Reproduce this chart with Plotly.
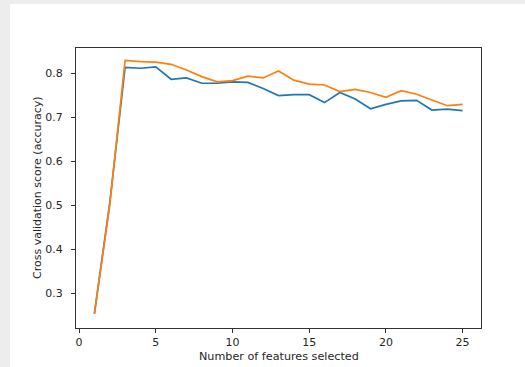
import plotly.graph_objects as go

n_features = list(range(1, 26))
score_a = [0.254, 0.505, 0.813, 0.811, 0.814, 0.786, 0.789, 0.777, 0.777, 0.780,
           0.779, 0.765, 0.749, 0.751, 0.751, 0.733, 0.756, 0.741, 0.719, 0.729,
           0.737, 0.738, 0.716, 0.718, 0.715]
score_b = [0.254, 0.500, 0.829, 0.826, 0.825, 0.820, 0.807, 0.792, 0.780, 0.783,
           0.793, 0.789, 0.805, 0.784, 0.775, 0.773, 0.758, 0.763, 0.756, 0.745,
           0.760, 0.752, 0.739, 0.726, 0.729]
x_ticks = [0, 5, 10, 15, 20, 25]
y_ticks = [0.3, 0.4, 0.5, 0.6, 0.7, 0.8]
x_title = "Number of features selected"
y_title = "Cross validation score (accuracy)"

FONT = "DejaVu Sans"
fig = go.Figure()
fig.add_trace(go.Scatter(x=n_features, y=score_a, mode="lines",
                         line=dict(color="#1f77b4", width=1.7), showlegend=False))
fig.add_trace(go.Scatter(x=n_features, y=score_b, mode="lines",
                         line=dict(color="#ff7f0e", width=1.7), showlegend=False))

axis_common = dict(showline=True, linecolor="#333333", linewidth=1, mirror=True,
                   ticks="outside", ticklen=4, tickwidth=1, tickcolor="#333333",
                   showgrid=False, zeroline=False,
                   tickfont=dict(family=FONT, size=11, color="#262626"))
fig.update_xaxes(range=[-0.2, 26.2], tickvals=x_ticks, ticktext=[str(t) for t in x_ticks],
                 ticklabelstandoff=0, **axis_common)
fig.update_yaxes(range=[0.2211, 0.857], tickvals=y_ticks, ticktext=[f"{t:.1f}" for t in y_ticks],
                 ticklabelstandoff=6, **axis_common)

fig.add_annotation(text=x_title, xref="paper", yref="paper", x=0.5, y=-28/280,
                   xanchor="center", yanchor="middle", showarrow=False,
                   font=dict(family=FONT, size=11.2, color="#262626"))
fig.add_annotation(text=y_title, xref="paper", yref="paper", x=-39/405, y=0.5,
                   xanchor="center", yanchor="middle", showarrow=False, textangle=-90,
                   font=dict(family=FONT, size=11, color="#262626"))

# card background
fig.add_shape(type="rect", xref="paper", yref="paper", layer="below",
              x0=-66/405, x1=1.2, y0=-0.2, y1=1 + 44/280,
              fillcolor="white", line=dict(width=0))

fig.update_layout(width=525, height=367, paper_bgcolor="#ededed", plot_bgcolor="white",
                  margin=dict(l=76, r=44, t=48, b=39))
fig.write_html("out.html", config={"displayModeBar": False},
               post_script="document.body.style.margin='0';")
